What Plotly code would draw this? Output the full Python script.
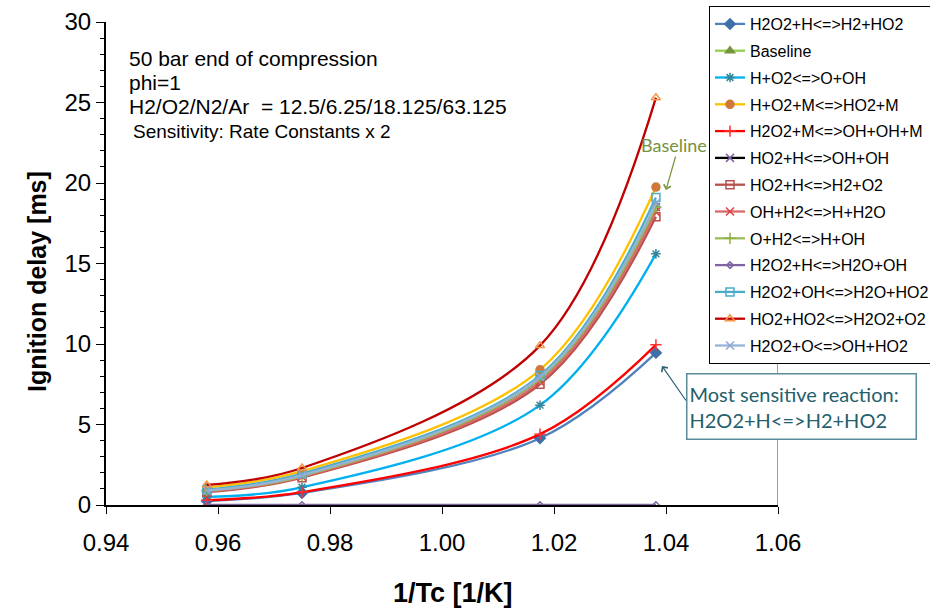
import plotly.graph_objects as go

# ---------------- data ----------------
x_tc = [0.958, 0.975, 1.0175, 1.0382]

series_names = [
    "H2O2+H<=>H2+HO2",
    "Baseline",
    "H+O2<=>O+OH",
    "H+O2+M<=>HO2+M",
    "H2O2+M<=>OH+OH+M",
    "HO2+H<=>OH+OH",
    "HO2+H<=>H2+O2",
    "OH+H2<=>H+H2O",
    "O+H2<=>H+OH",
    "H2O2+H<=>H2O+OH",
    "H2O2+OH<=>H2O+HO2",
    "HO2+HO2<=>H2O2+O2",
    "H2O2+O<=>OH+HO2",
]

y_h2o2_h_h2_ho2 = [0.25, 0.75, 4.15, 9.45]
y_baseline = [0.9, 1.85, 7.9, 18.6]
y_h_o2_o_oh = [0.5, 1.1, 6.2, 15.6]
y_h_o2_m = [1.1, 2.1, 8.4, 19.75]
y_h2o2_m = [0.3, 0.8, 4.4, 9.95]
y_ho2_h_oh_oh = [0.9, 1.8, 7.85, 18.5]
y_ho2_h_h2_o2 = [0.8, 1.7, 7.5, 17.9]
y_oh_h2 = [0.85, 1.75, 7.65, 18.2]
y_o_h2 = [0.9, 1.8, 7.85, 18.5]
y_h2o2_h_h2o_oh = [0.0, 0.0, 0.0, 0.0]
y_h2o2_oh = [0.95, 1.95, 8.05, 19.1]
y_ho2_ho2 = [1.25, 2.3, 9.9, 25.3]
y_h2o2_o = [0.9, 1.85, 7.95, 18.75]

series_values = [
    y_h2o2_h_h2_ho2, y_baseline, y_h_o2_o_oh, y_h_o2_m, y_h2o2_m,
    y_ho2_h_oh_oh, y_ho2_h_h2_o2, y_oh_h2, y_o_h2, y_h2o2_h_h2o_oh,
    y_h2o2_oh, y_ho2_ho2, y_h2o2_o,
]

x_ticks = [0.94, 0.96, 0.98, 1.00, 1.02, 1.04, 1.06]
x_tick_labels = ["0.94", "0.96", "0.98", "1.00", "1.02", "1.04", "1.06"]
y_ticks = [0, 5, 10, 15, 20, 25, 30]

info_lines = ["50 bar end of compression", "phi=1",
              "H2/O2/N2/Ar  = 12.5/6.25/18.125/63.125"]
sensitivity_text = "Sensitivity: Rate Constants x 2"

# ---------------- styles ----------------
styles = [
    # line color, marker symbol, marker color, marker size
    ("#4F81BD", "diamond", "#3F6FAA", 8),
    ("#92D050", "triangle-up", "#77933C", 8),
    ("#00B0F0", "asterisk-open", "#31859C", 8),
    ("#FFC000", "circle", "#D0783A", 8),
    ("#FF0000", "cross-thin-open", "#FF3030", 8),
    ("#000000", "x-thin-open", "#8064A2", 8),
    ("#B8504C", "square-open", "#B8504C", 8),
    ("#D9696A", "x-thin-open", "#E04040", 8),
    ("#9BBB59", "cross-thin-open", "#8DB040", 8),
    ("#8064A2", "diamond-open", "#8064A2", 5),
    ("#4BACC6", "square-open", "#4BACC6", 8),
    ("#C00000", "triangle-up-open", "#F79646", 8),
    ("#95B3D7", "x-thin-open", "#8EA9CF", 8),
]

L, R, T, B = 106, 778, 22, 505
W, H = 930, 609


def px(xp):
    return (xp - L) / (R - L)


def py(yp):
    return (B - yp) / (B - T)


def esc(s):
    return s.replace("<", "&lt;").replace(">", "&gt;")


fig = go.Figure()
for i, (name, vals) in enumerate(zip(series_names, series_values)):
    lc, sym, mc, ms = styles[i]
    fig.add_trace(go.Scatter(
        x=x_tc, y=vals, name=esc(name), mode="lines+markers",
        line=dict(color=lc, width=2.3, shape="spline"),
        marker=dict(symbol=sym, size=ms, color=mc,
                    line=dict(color=mc, width=1.5)),
        legendgroup="g%d" % i,
    ))

# right border of plot area
fig.add_shape(type="line", xref="x", yref="y", x0=1.06, x1=1.06, y0=0, y1=30,
              line=dict(color="#404040", width=1), layer="below")

font_main = "Liberation Sans, Arial, sans-serif"
font_cal = "Lato, Carlito, Calibri, sans-serif"

ann = []
for txt, yc in zip(info_lines, [58, 82, 106]):
    ann.append(dict(xref="paper", yref="paper", x=px(127), y=py(yc),
                    xanchor="left", yanchor="middle", showarrow=False,
                    text=txt, font=dict(family=font_main, size=21, color="#000000")))
ann.append(dict(xref="paper", yref="paper", x=px(131), y=py(131),
                xanchor="left", yanchor="middle", showarrow=False,
                text=sensitivity_text,
                font=dict(family=font_main, size=19, color="#000000")))

# axis titles
ann.append(dict(xref="paper", yref="paper", x=px(37), y=py(282), textangle=-90,
                xanchor="center", yanchor="middle",
                showarrow=False, text="<b>Ignition delay [ms]</b>",
                font=dict(family=font_main, size=25, color="#000000")))
ann.append(dict(xref="paper", yref="paper", x=px(453), y=py(593),
                xanchor="center", yanchor="middle",
                showarrow=False, text="<b>1/Tc [1/K]</b>",
                font=dict(family=font_main, size=27, color="#000000")))

# Baseline label + arrow
ann.append(dict(xref="paper", yref="paper", x=px(674), y=py(145),
                xanchor="center", yanchor="middle", showarrow=False,
                text="Baseline", font=dict(family=font_cal, size=18, color="#76923C")))
ann.append(dict(xref="paper", yref="paper", x=px(666), y=py(190), ax=10, ay=-35,
                axref="pixel", ayref="pixel", text="", showarrow=True,
                arrowhead=4, arrowsize=1.2, arrowwidth=1.2, arrowcolor="#76923C"))

# Most sensitive reaction box + arrow
ann.append(dict(xref="paper", yref="paper", x=px(686), y=py(373),
                xanchor="left", yanchor="top", showarrow=False, align="left",
                text="Most sensitive reaction:<br>" + esc("H2O2+H<=>H2+HO2"),
                width=224, height=60, borderpad=2, borderwidth=1.5,
                bordercolor="#5A8C9A", bgcolor="#FFFFFF",
                font=dict(family=font_cal, size=20, color="#255E6C")))
ann.append(dict(xref="paper", yref="paper", x=px(662), y=py(366), ax=25, ay=36,
                text="", showarrow=True, arrowhead=4, arrowsize=1.2,
                arrowwidth=1.2, arrowcolor="#2F6272"))

fig.update_layout(
    width=W, height=H,
    margin=dict(l=L, r=W - R, t=T, b=H - B, autoexpand=False),
    paper_bgcolor="#FFFFFF", plot_bgcolor="#FFFFFF",
    font=dict(family=font_main, color="#000000"),
    showlegend=True,
    legend=dict(x=px(709), y=py(6), xanchor="left", yanchor="top",
                bgcolor="#FFFFFF", bordercolor="#000000", borderwidth=1,
                font=dict(family=font_main, size=16, color="#000000"),
                traceorder="grouped", tracegroupgap=3, itemwidth=30,
                maxheight=420),
    annotations=ann,
    xaxis=dict(range=[0.94, 1.06], tickvals=x_ticks, ticktext=x_tick_labels,
               showgrid=False, zeroline=False, showline=True, linecolor="#000000",
               linewidth=2, ticks="outside", ticklen=7, tickcolor="#000000",
               ticklabelstandoff=8,
               tickfont=dict(family=font_main, size=24, color="#000000")),
    yaxis=dict(range=[0, 30], tickvals=y_ticks, showgrid=False, zeroline=False,
               showline=True, linecolor="#000000", linewidth=2,
               ticks="outside", ticklen=8, tickcolor="#000000",
               tickfont=dict(family=font_main, size=24, color="#000000"),
               minor=dict(dtick=1, ticks="outside", ticklen=4, tickcolor="#000000")),
)

fig.write_html("out.html")
